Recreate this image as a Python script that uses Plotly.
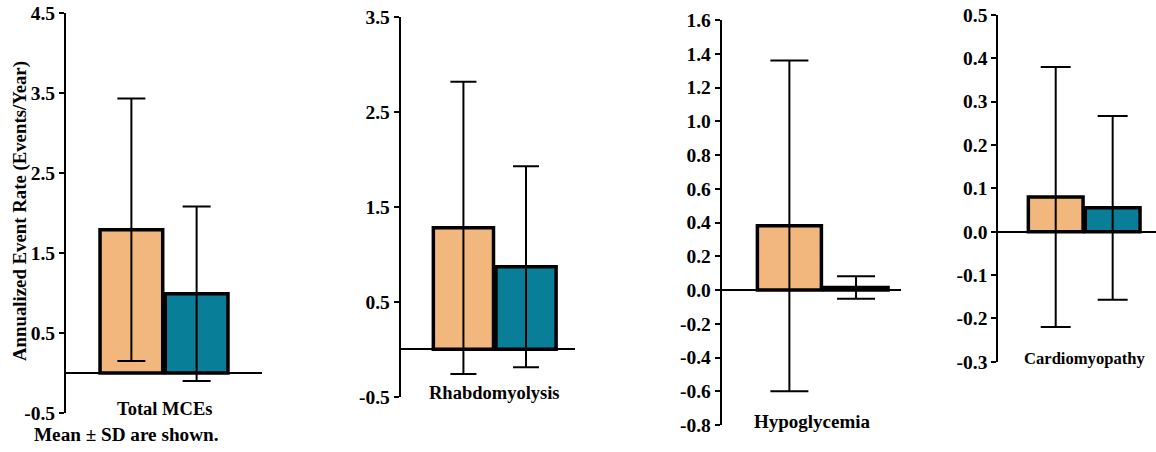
import plotly.graph_objects as go

# ---- data ----
categories = ["Total MCEs", "Rhabdomyolysis", "Hypoglycemia", "Cardiomyopathy"]
group_a_mean = [1.79, 1.28, 0.38, 0.080]
group_a_sd = [1.64, 1.54, 0.98, 0.300]
group_b_mean = [0.99, 0.87, 0.015, 0.055]
group_b_sd = [1.09, 1.06, 0.067, 0.212]

y_ranges = [[-0.5, 4.5], [-0.5, 3.5], [-0.8, 1.6], [-0.3, 0.5]]
tick_vals = [
    [-0.5, 0.5, 1.5, 2.5, 3.5, 4.5],
    [-0.5, 0.5, 1.5, 2.5, 3.5],
    [-0.8, -0.6, -0.4, -0.2, 0.0, 0.2, 0.4, 0.6, 0.8, 1.0, 1.2, 1.4, 1.6],
    [-0.3, -0.2, -0.1, 0.0, 0.1, 0.2, 0.3, 0.4, 0.5],
]
tick_text = [
    ["-0.5", "0.5", "1.5", "2.5", "3.5", "4.5"],
    ["-0.5", "0.5", "1.5", "2.5", "3.5"],
    ["-0.8", "-0.6", "-0.4", "-0.2", "0.0", "0.2", "0.4", "0.6", "0.8", "1.0", "1.2", "1.4", "1.6"],
    ["-0.3", "-0.2", "-0.1", "0.0", "0.1", "0.2", "0.3", "0.4", "0.5"],
]
y_title = "Annualized Event Rate (Events/Year)"
footnote = "Mean ± SD are shown."

# ---- layout geometry (pixels) ----
W, H = 1156, 452
x_dom_px = [(66, 262), (400.7, 575), (721.7, 901), (998.3, 1156)]
y_dom_px = [(13, 413), (17.3, 396.7), (20, 425), (15, 361.7)]
x_ranges = [[-0.766, 0.766], [-0.766, 0.654], [-0.773, 0.599], [-0.769, 0.643]]
cap_w = [14, 13, 19, 15]
label_y_px = [409, 393, 421, 358]
label_shift = [0, 0, -10, 0]
label_size = [18.5, 18.5, 19, 16.6]

COL_A = "#F1B77D"
COL_B = "#087E99"
FONT = "Liberation Serif"

fig = go.Figure()
layout = dict(
    width=W, height=H, margin=dict(l=0, r=0, t=0, b=0, pad=0, autoexpand=False),
    paper_bgcolor="white", plot_bgcolor="white",
    barmode="overlay", showlegend=False,
    font=dict(family=FONT, color="black"),
)
annotations = []

for i, cat in enumerate(categories):
    sfx = "" if i == 0 else str(i + 1)
    xa, ya = "x" + sfx, "y" + sfx
    for mean, sd, col, off in [
        (group_a_mean[i], group_a_sd[i], COL_A, -0.5),
        (group_b_mean[i], group_b_sd[i], COL_B, 0.01),
    ]:
        fig.add_trace(go.Bar(
            x=[cat], y=[mean], width=0.49, offset=off,
            marker=dict(color=col, line=dict(color="black", width=3.5)),
            error_y=dict(type="data", array=[sd], visible=True,
                         color="black", thickness=2, width=cap_w[i]),
            xaxis=xa, yaxis=ya,
        ))
    x0, x1 = x_dom_px[i]
    y0, y1 = y_dom_px[i]
    layout["xaxis" + sfx] = dict(
        domain=[x0 / W, min(x1 / W, 1.0)], anchor=ya, type="category",
        range=x_ranges[i], showline=False, showgrid=False, zeroline=False,
        showticklabels=False, ticks="", automargin=False,
    )
    layout["yaxis" + sfx] = dict(
        domain=[1 - y1 / H, 1 - y0 / H], anchor=xa, range=y_ranges[i],
        showline=True, linecolor="black", linewidth=2,
        ticks="outside", ticklen=5, tickwidth=2, tickcolor="black",
        tickvals=tick_vals[i], ticktext=["<b>%s</b>" % t for t in tick_text[i]],
        tickfont=dict(family=FONT, size=19.5, color="black"),
        showgrid=False, zeroline=True, zerolinecolor="black", zerolinewidth=2,
        automargin=False,
    )
    annotations.append(dict(
        text="<b>%s</b>" % cat, xref=xa, yref="paper", x=cat,
        y=1 - label_y_px[i] / H, xanchor="center", yanchor="middle",
        xshift=label_shift[i], showarrow=False,
        font=dict(family=FONT, size=label_size[i], color="black"),
    ))

annotations.append(dict(
    text="<b>%s</b>" % y_title, xref="paper", yref="paper",
    x=20 / W, y=1 - 211 / H, textangle=-90, showarrow=False,
    xanchor="center", yanchor="middle",
    font=dict(family=FONT, size=18.8, color="black"),
))
annotations.append(dict(
    text="<b>%s</b>" % footnote, xref="paper", yref="paper",
    x=126 / W, y=1 - 434 / H, showarrow=False,
    xanchor="center", yanchor="middle",
    font=dict(family=FONT, size=19.2, color="black"),
))
layout["annotations"] = annotations
fig.update_layout(**layout)
fig.write_html(
    "out.html",
    config={"displayModeBar": False},
    post_script="document.body.style.margin='0';document.body.style.overflow='hidden';",
)
